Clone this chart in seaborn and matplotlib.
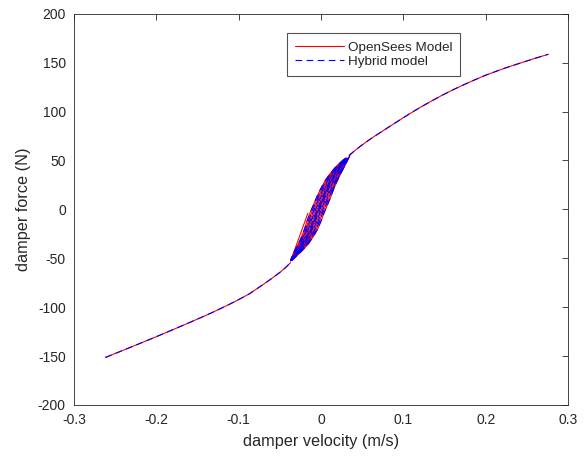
import matplotlib
matplotlib.use("Agg")
import matplotlib.pyplot as plt
import pandas as pd
import seaborn as sns

# ---- damper response: velocity (m/s) vs force (N) ----
# high-speed branches (shared by both models)
upper_v = [0.034, 0.040, 0.047, 0.054, 0.060, 0.066, 0.072, 0.080, 0.088,
           0.096, 0.108, 0.120, 0.134, 0.147, 0.161, 0.174, 0.187, 0.201,
           0.215, 0.228, 0.242, 0.259, 0.276]
upper_F = [55.0, 59.3, 64.0, 68.3, 71.9, 75.3, 78.5, 82.9, 87.2,
           91.5, 97.9, 104.0, 110.6, 116.6, 122.5, 127.6, 132.5, 137.5,
           141.8, 145.7, 149.5, 154.1, 158.5]
lower_v = [-0.262, -0.245, -0.228, -0.208, -0.187, -0.167, -0.147, -0.135,
           -0.123, -0.111, -0.100, -0.087, -0.074, -0.062, -0.050, -0.043,
           -0.037]
lower_F = [-151.5, -145.7, -139.9, -133.0, -125.6, -118.4, -111.1, -106.6,
           -101.9, -97.0, -92.3, -86.4, -79.0, -72.0, -64.5, -59.5, -54.5]

# low-speed hysteresis loops: force levels and the velocity on the
# loading (rise) and unloading (fall) edge of each loop
loop_F = [-52, -44, -36, -28, -20, -12, -4, 4, 12, 20, 28, 36, 44, 52]
loop1_rise = [-0.0350, -0.0250, -0.0160, -0.0095, -0.0040, 0.0000, 0.0035,
              0.0075, 0.0115, 0.0150, 0.0190, 0.0235, 0.0285, 0.0330]
loop1_fall = [-0.0370, -0.0330, -0.0280, -0.0235, -0.0200, -0.0170, -0.0135,
              -0.0095, -0.0055, -0.0010, 0.0040, 0.0105, 0.0185, 0.0290]
loop2_rise = [-0.0352, -0.0258, -0.0172, -0.0109, -0.0056, -0.0017, 0.0018,
              0.0058, 0.0098, 0.0134, 0.0175, 0.0222, 0.0275, 0.0326]
loop2_fall = [-0.0368, -0.0322, -0.0268, -0.0221, -0.0184, -0.0153, -0.0118,
              -0.0078, -0.0038, 0.0006, 0.0055, 0.0118, 0.0195, 0.0294]
loop3_rise = [-0.0354, -0.0266, -0.0184, -0.0123, -0.0072, -0.0034, 0.0001,
              0.0041, 0.0081, 0.0118, 0.0160, 0.0209, 0.0265, 0.0322]
loop3_fall = [-0.0366, -0.0314, -0.0256, -0.0207, -0.0168, -0.0136, -0.0101,
              -0.0061, -0.0021, 0.0022, 0.0070, 0.0131, 0.0205, 0.0298]
loop4_rise = [-0.0356, -0.0274, -0.0196, -0.0137, -0.0088, -0.0051, -0.0016,
              0.0024, 0.0064, 0.0102, 0.0145, 0.0196, 0.0255, 0.0318]
loop4_fall = [-0.0364, -0.0306, -0.0244, -0.0193, -0.0152, -0.0119, -0.0084,
              -0.0044, -0.0004, 0.0038, 0.0085, 0.0144, 0.0215, 0.0302]
loop5_rise = [-0.0358, -0.0282, -0.0208, -0.0151, -0.0104, -0.0068, -0.0033,
              0.0007, 0.0047, 0.0086, 0.0130, 0.0183, 0.0245, 0.0314]
loop5_fall = [-0.0362, -0.0298, -0.0232, -0.0179, -0.0136, -0.0102, -0.0067,
              -0.0027, 0.0013, 0.0054, 0.0100, 0.0157, 0.0225, 0.0306]
loop6_rise = [-0.0360, -0.0290, -0.0220, -0.0165, -0.0120, -0.0085, -0.0050,
              -0.0010, 0.0030, 0.0070, 0.0115, 0.0170, 0.0235, 0.0310]
loop6_fall = [-0.0360, -0.0290, -0.0220, -0.0165, -0.0120, -0.0085, -0.0050,
              -0.0010, 0.0030, 0.0070, 0.0115, 0.0170, 0.0235, 0.0310]

# sparse jumps specific to each model
opensees_jumps_v = [[-0.0370, -0.0160], [-0.0365, -0.0110], [0.0210, 0.0360]]
opensees_jumps_F = [[-53.0, -4.0], [-52.0, -9.0], [32.0, 57.0]]
hybrid_jumps_v = [[0.0130, 0.0210, 0.0290, 0.0360], [-0.0330, -0.0270, -0.0210]]
hybrid_jumps_F = [[18.0, 33.0, 45.0, 56.0], [-48.0, -43.0, -31.0]]

models = ["OpenSees Model", "Hybrid model"]
loops = [(loop1_rise, loop1_fall), (loop2_rise, loop2_fall),
         (loop3_rise, loop3_fall), (loop4_rise, loop4_fall),
         (loop5_rise, loop5_fall), (loop6_rise, loop6_fall)]

rows = []


def add_path(model, pid, vs, fs):
    for v, f in zip(vs, fs):
        rows.append({"model": model, "path": pid, "v": v, "F": f})


for m in models:
    add_path(m, "lower", lower_v, lower_F)
    add_path(m, "upper", upper_v, upper_F)
    for i, (rise, fall) in enumerate(loops):
        vs = list(rise) + list(fall[::-1]) + [rise[0]]
        fs = list(loop_F) + list(loop_F[::-1]) + [loop_F[0]]
        # hybrid cycles are traced alternately clockwise / counter-clockwise
        if m == models[1] and i % 2 == 1:
            vs, fs = vs[::-1], fs[::-1]
        add_path(m, f"loop{i}", vs, fs)
    jv, jf = ((opensees_jumps_v, opensees_jumps_F) if m == models[0]
              else (hybrid_jumps_v, hybrid_jumps_F))
    for j, (vs, fs) in enumerate(zip(jv, jf)):
        add_path(m, f"jump{j}", vs, fs)

df = pd.DataFrame(rows)

sns.set_style("white")
plt.rcParams["font.family"] = ["Liberation Sans", "DejaVu Sans"]
plt.rcParams["axes.unicode_minus"] = False

fig = plt.figure(figsize=(5.88, 4.57), dpi=100)
ax = fig.add_axes([0.126, 0.114, 0.840, 0.856])

sns.lineplot(data=df, x="v", y="F", hue="model", style="model",
             units="path", estimator=None, sort=False,
             palette={"OpenSees Model": "#ff0000", "Hybrid model": "#0000ff"},
             dashes={"OpenSees Model": "", "Hybrid model": (6, 4)},
             linewidth=0.8, ax=ax, legend=True)

ax.set_xlim(-0.3, 0.3)
ax.set_ylim(-200, 200)
xt = [-0.3, -0.2, -0.1, 0, 0.1, 0.2, 0.3]
yt = [-200, -150, -100, -50, 0, 50, 100, 150, 200]
ax.set_xticks(xt)
ax.set_xticklabels([f"{t:g}" for t in xt])
ax.set_yticks(yt)
ax.set_yticklabels([f"{t:g}" for t in yt])
ax.tick_params(direction="in", top=True, right=True, length=4, width=0.6,
               color="#262626", labelcolor="#262626", labelsize=10, pad=6)
for s in ax.spines.values():
    s.set_color("#262626")
    s.set_linewidth(0.6)

ax.set_xlabel("damper velocity (m/s)", fontsize=11.7, color="#262626",
              labelpad=5)
ax.set_ylabel("damper force (N)", fontsize=11.7, color="#262626",
              labelpad=5)

handles, labels = ax.get_legend_handles_labels()
leg = ax.legend(handles, labels, loc="upper left",
                bbox_to_anchor=(287 / 588, 1 - 33 / 457),
                bbox_transform=fig.transFigure,
                borderaxespad=0, fontsize=9.7, frameon=True, fancybox=False,
                handlelength=3.6, handletextpad=0.3, borderpad=0.6,
                labelspacing=0.15)
leg.get_frame().set_edgecolor("#262626")
leg.get_frame().set_linewidth(0.8)

fig.savefig("out.png", dpi=100)
